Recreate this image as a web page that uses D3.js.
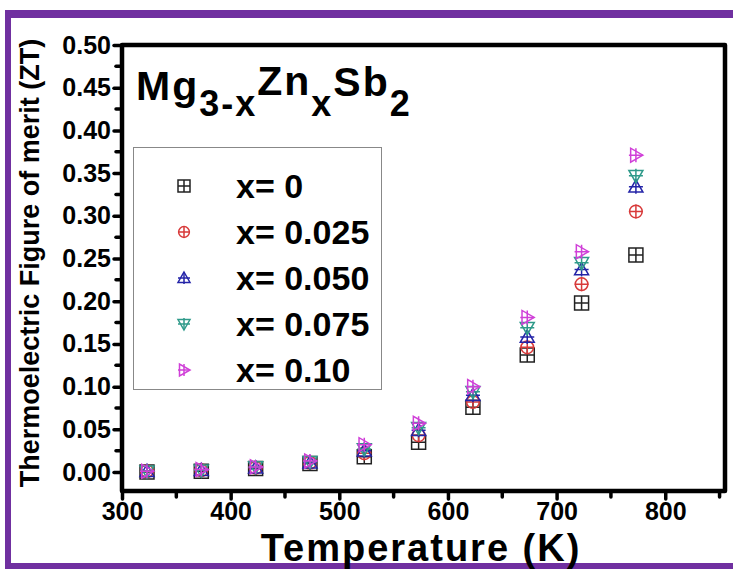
<!DOCTYPE html>
<html>
<head>
<meta charset="utf-8">
<script src="https://cdn.jsdelivr.net/npm/d3@7"></script>
<style>
  body { margin: 0; background: #fff; }
  svg text { font-family: "Liberation Sans", Arial, sans-serif; font-weight: bold; }
</style>
</head>
<body>
<svg id="chart" width="733" height="574"></svg>
<script>
// data
const temps = [323, 373, 423, 473, 523, 573, 623, 673, 723, 773];
const zt0 = [0.000, 0.001, 0.004, 0.010, 0.018, 0.035, 0.076, 0.137, 0.198, 0.254];
const zt025 = [0.001, 0.002, 0.005, 0.011, 0.022, 0.043, 0.082, 0.146, 0.220, 0.305];
const zt050 = [0.001, 0.002, 0.005, 0.011, 0.025, 0.049, 0.090, 0.158, 0.237, 0.334];
const zt075 = [0.001, 0.002, 0.006, 0.012, 0.027, 0.052, 0.094, 0.169, 0.245, 0.347];
const zt10 = [0.001, 0.003, 0.006, 0.013, 0.032, 0.057, 0.100, 0.181, 0.258, 0.371];
const seriesNames = ['x= 0', 'x= 0.025', 'x= 0.050', 'x= 0.075', 'x= 0.10'];
const xTicks = [300, 400, 500, 600, 700, 800];
const yTicks = [0, 0.05, 0.10, 0.15, 0.20, 0.25, 0.30, 0.35, 0.40, 0.45, 0.50];

const series = [
    { name: seriesNames[0], values: zt0, color: '#222222', shape: 'square' },
    { name: seriesNames[1], values: zt025, color: '#d83a3a', shape: 'circle' },
    { name: seriesNames[2], values: zt050, color: '#2424a8', shape: 'up' },
    { name: seriesNames[3], values: zt075, color: '#2f9a8a', shape: 'down' },
    { name: seriesNames[4], values: zt10, color: '#d040d8', shape: 'right' }
];

const svg = d3.select('#chart');
const plotLeft = 122, plotRight = 725, plotTop = 45, plotBottom = 491;

// purple frame
const purple = '#7030a0';
svg.append('rect').attr('x', 5).attr('y', 10).attr('width', 728).attr('height', 8).attr('fill', purple);
svg.append('rect').attr('x', 5).attr('y', 10).attr('width', 6).attr('height', 559).attr('fill', purple);
svg.append('rect').attr('x', 5).attr('y', 563).attr('width', 728).attr('height', 6).attr('fill', purple);

const x = d3.scaleLinear().domain([300, 855]).range([plotLeft, plotRight]);
const y = d3.scaleLinear().domain([-0.0222, 0.50]).range([plotBottom, plotTop]);

// axes
const xAxis = d3.axisBottom(x).tickValues(xTicks).tickSize(8).tickPadding(3).tickFormat(d3.format('d'));
const gx = svg.append('g').attr('transform', 'translate(0,' + plotBottom + ')').call(xAxis);
const yAxis = d3.axisLeft(y).tickValues(yTicks).tickSize(8).tickPadding(3).tickFormat(d3.format('.2f'));
const gy = svg.append('g').attr('transform', 'translate(' + plotLeft + ',0)').call(yAxis);

// minor ticks
svg.append('g').selectAll('line')
    .data(d3.range(350, 851, 100))
    .join('line')
    .attr('x1', (d) => x(d)).attr('x2', (d) => x(d))
    .attr('y1', plotBottom).attr('y2', plotBottom + 6)
    .attr('stroke', '#000').attr('stroke-width', 3.5).attr('stroke-linecap', 'round');
svg.append('g').selectAll('line')
    .data(d3.range(0.025, 0.5, 0.05))
    .join('line')
    .attr('y1', (d) => y(d)).attr('y2', (d) => y(d))
    .attr('x1', plotLeft).attr('x2', plotLeft - 6)
    .attr('stroke', '#000').attr('stroke-width', 3.5).attr('stroke-linecap', 'round');

[gx, gy].forEach((g) => {
    g.select('.domain').remove();
    g.selectAll('.tick line').attr('stroke', '#000').attr('stroke-width', 3.5).attr('stroke-linecap', 'round');
    g.selectAll('.tick text').attr('fill', '#000').style('font-size', '25px');
});
gx.selectAll('.tick text').attr('dy', '0.72em');

// frame
svg.append('rect')
    .attr('x', plotLeft).attr('y', plotTop)
    .attr('width', plotRight - plotLeft).attr('height', plotBottom - plotTop)
    .attr('fill', 'none').attr('stroke', '#000').attr('stroke-width', 4.5)
    .attr('stroke-linejoin', 'round');

// axis titles
svg.append('text')
    .attr('x', 421).attr('y', 561)
    .attr('text-anchor', 'middle')
    .style('font-size', '38px').style('letter-spacing', '2px')
    .text('Temperature (K)');
svg.append('text')
    .attr('transform', 'translate(39,' + 263 + ') rotate(-90)')
    .attr('text-anchor', 'middle')
    .style('font-size', '27px')
    .text('Thermoelectric Figure of merit (ZT)');

// formula label
const formula = svg.append('text').attr('x', 136).attr('y', 100)
    .style('font-size', '41px').style('letter-spacing', '2px');
formula.append('tspan').text('Mg');
formula.append('tspan').attr('dy', 16).style('font-size', '36px').text('3-x');
formula.append('tspan').attr('dy', -21).text('Zn');
formula.append('tspan').attr('dy', 21).style('font-size', '36px').text('x');
formula.append('tspan').attr('dy', -20).text('Sb');
formula.append('tspan').attr('dy', 20).style('font-size', '36px').text('2');

// marker drawing
function drawMarker(g, shape, r, color) {
    let outline;
    if (shape === 'square') {
        outline = 'M' + (-r) + ',' + (-r) + 'H' + r + 'V' + r + 'H' + (-r) + 'Z';
    } else if (shape === 'up') {
        outline = 'M0,' + (-r) + 'L' + r + ',' + (r * 0.75) + 'L' + (-r) + ',' + (r * 0.75) + 'Z';
    } else if (shape === 'down') {
        outline = 'M0,' + r + 'L' + r + ',' + (-r * 0.75) + 'L' + (-r) + ',' + (-r * 0.75) + 'Z';
    } else if (shape === 'right') {
        outline = 'M' + r + ',0L' + (-r * 0.75) + ',' + r + 'L' + (-r * 0.75) + ',' + (-r) + 'Z';
    }
    if (shape === 'circle') {
        g.append('circle').attr('r', r * 0.9);
    } else {
        g.append('path').attr('d', outline);
    }
    g.append('path').attr('d', 'M' + (-r) + ',0H' + r + 'M0,' + (-r) + 'V' + r);
    g.selectAll('*').attr('fill', 'none').attr('stroke', color).attr('stroke-width', 1.5);
}

// points
series.forEach((s) => {
    svg.append('g').selectAll('g')
        .data(temps.map((t, i) => ({ t: t, v: s.values[i] })))
        .join('g')
        .attr('transform', (d) => 'translate(' + x(d.t) + ',' + y(d.v) + ')')
        .each(function () { drawMarker(d3.select(this), s.shape, 7, s.color); });
});

// legend
const legend = svg.append('g');
legend.append('rect')
    .attr('x', 133.5).attr('y', 147.5).attr('width', 248).attr('height', 242)
    .attr('fill', '#fff').attr('stroke', '#888').attr('stroke-width', 1);
series.forEach((s, i) => {
    const ly = 186 + i * 46;
    const g = legend.append('g').attr('transform', 'translate(184,' + ly + ')');
    drawMarker(g, s.shape, 6, s.color);
    legend.append('text')
        .attr('x', 236).attr('y', ly + 12)
        .style('font-size', '34px')
        .text(s.name);
});
</script>
</body>
</html>
